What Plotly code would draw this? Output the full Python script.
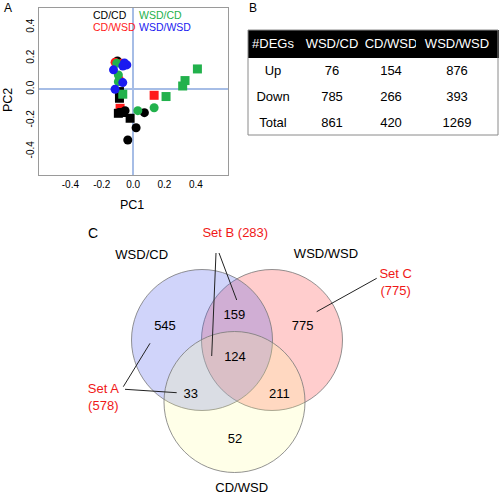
import plotly.graph_objects as go

FONT = "Liberation Sans, Arial, sans-serif"
W, H = 500, 495

# ---------------- Panel A data (PCA) ----------------
groups = ["CD/CD", "CD/WSD", "WSD/CD", "WSD/WSD"]
group_colors = {"CD/CD": "#000000", "CD/WSD": "#FF1A1A", "WSD/CD": "#22B14C", "WSD/WSD": "#1A1AF0"}

cdcd_circle_x = [-0.100, -0.034, 0.019, 0.072, -0.051]
cdcd_circle_y = [0.183, -0.327, -0.248, -0.151, -0.138]
cdcd_square_x = [-0.094, -0.072, -0.019, -0.087, -0.087]
cdcd_square_y = [-0.155, -0.150, -0.187, -0.058, -0.015]

cdwsd_circle_x = [-0.115, -0.072, -0.087]
cdwsd_circle_y = [0.174, 0.168, 0.062]
cdwsd_square_x = [0.134, -0.083]
cdwsd_square_y = [-0.039, -0.123]

wsdcd_circle_x = [0.030, 0.134, -0.104, -0.094, -0.094]
wsdcd_circle_y = [-0.138, -0.119, 0.168, 0.092, 0.049]
wsdcd_square_x = [0.410, 0.331, 0.316, 0.210, -0.066]
wsdcd_square_y = [0.131, 0.056, 0.021, -0.047, -0.032]

wsdwsd_circle_x = [-0.115, -0.066, -0.125, -0.040, -0.055, -0.065]
wsdwsd_circle_y = [0.000, 0.043, 0.125, 0.157, 0.170, 0.150]

pc_ticks = [-0.4, -0.2, 0.0, 0.2, 0.4]
pc_ticklabels = ["-0.4", "-0.2", "0.0", "0.2", "0.4"]

# ---------------- Panel B data (table) ----------------
table_header = ["#DEGs", "WSD/CD", "CD/WSD", "WSD/WSD"]
row_labels = ["Up", "Down", "Total"]
deg_wsdcd = [76, 785, 861]
deg_cdwsd = [154, 266, 420]
deg_wsdwsd = [876, 393, 1269]

# ---------------- Panel C data (Venn) ----------------
venn_sets = ["WSD/CD", "WSD/WSD", "CD/WSD"]
venn_regions = ["WSD/CD only", "WSD/CD & WSD/WSD", "WSD/WSD only", "all three",
                "WSD/CD & CD/WSD", "WSD/WSD & CD/WSD", "CD/WSD only"]
venn_counts = [545, 159, 775, 124, 33, 211, 52]

fig = go.Figure()

# ---------- Panel A ----------
def add_pts(xs, ys, color, symbol, size):
    fig.add_trace(go.Scatter(x=xs, y=ys, mode="markers", xaxis="x", yaxis="y",
                             marker=dict(color=color, symbol=symbol, size=size, line=dict(width=0)),
                             hoverinfo="skip"))

add_pts(cdwsd_square_x, cdwsd_square_y, group_colors["CD/WSD"], "square", 9)
add_pts(cdcd_square_x, cdcd_square_y, group_colors["CD/CD"], "square", 9)
add_pts(cdcd_circle_x, cdcd_circle_y, group_colors["CD/CD"], "circle", 9)
add_pts(cdwsd_circle_x, cdwsd_circle_y, group_colors["CD/WSD"], "circle", 9)
add_pts(wsdcd_circle_x, wsdcd_circle_y, group_colors["WSD/CD"], "circle", 9)
add_pts(wsdcd_square_x, wsdcd_square_y, group_colors["WSD/CD"], "square", 9)
add_pts(wsdwsd_circle_x, wsdwsd_circle_y, group_colors["WSD/WSD"], "circle", 9)

# legend text (colored labels)
leg_x = [-0.267, 0.027, -0.267, 0.027]
leg_y = [0.479, 0.479, 0.404, 0.404]
legend_order = ["CD/CD", "WSD/CD", "CD/WSD", "WSD/WSD"]
for lx, ly, g in zip(leg_x, leg_y, legend_order):
    fig.add_annotation(x=lx, y=ly, xref="x", yref="y", text=g, showarrow=False,
                       xanchor="left", yanchor="middle",
                       font=dict(family=FONT, size=10.5, color=group_colors[g]))

# ---------- Panel B ----------
fig.add_trace(go.Table(
    domain=dict(x=[248 / W, 498 / W], y=[1 - 135 / H, 1 - 30 / H]),
    columnwidth=[50, 68, 50, 82],
    header=dict(values=table_header, fill_color="black", line_color="black",
                font=dict(family=FONT, size=13, color="white"), align="center", height=27),
    cells=dict(values=[row_labels, deg_wsdcd, deg_cdwsd, deg_wsdwsd],
               fill_color="white", line_color="white",
               font=dict(family=FONT, size=13, color="black"), align="center", height=26),
))
fig.add_shape(type="rect", xref="paper", yref="paper",
              x0=248 / W, x1=498 / W, y0=1 - 135 / H, y1=1 - 30 / H,
              line=dict(color="#8a8a8a", width=1), fillcolor="rgba(0,0,0,0)", layer="above")

# ---------- Panel C (Venn) ----------
R = 70.5
circle_centers = {"WSD/WSD": (272, 340), "WSD/CD": (202, 340), "CD/WSD": (234.5, 402)}
circle_fills = {"WSD/WSD": "rgba(255,55,55,0.25)", "WSD/CD": "rgba(67,83,235,0.25)",
                "CD/WSD": "rgba(255,255,150,0.22)"}
for s in ["WSD/WSD", "WSD/CD", "CD/WSD"]:
    cx, cy = circle_centers[s]
    fig.add_shape(type="circle", xref="x3", yref="y3", x0=cx - R, x1=cx + R, y0=cy - R, y1=cy + R,
                  fillcolor=circle_fills[s], line=dict(color="rgba(120,120,120,0.8)", width=1),
                  layer="below")

region_x = [165, 234.3, 302.7, 235, 190.7, 279.3, 235]
region_y = [326.7, 316, 326.7, 357.7, 395, 395, 439.3]
fig.add_trace(go.Scatter(x=region_x, y=region_y, xaxis="x3", yaxis="y3", mode="text",
                         text=[str(c) for c in venn_counts], textposition="middle center",
                         textfont=dict(family=FONT, size=13, color="black"), hoverinfo="skip"))

set_label_x = [141.7, 326, 241.7]
set_label_y = [255.7, 255, 488.3]
fig.add_trace(go.Scatter(x=set_label_x, y=set_label_y, xaxis="x3", yaxis="y3", mode="text",
                         text=venn_sets, textposition="middle center",
                         textfont=dict(family=FONT, size=13, color="black"), hoverinfo="skip"))

set_a = venn_counts[0] + venn_counts[4]
set_b = venn_counts[1] + venn_counts[3]
set_c = venn_counts[2]
sel_text = [f"Set A<br>({set_a})", f"Set B ({set_b})", f"Set C<br>({set_c})"]
sel_x = [103.3, 235.3, 395.7]
sel_y = [398, 233.3, 283]
fig.add_trace(go.Scatter(x=sel_x, y=sel_y, xaxis="x3", yaxis="y3", mode="text",
                         text=sel_text, textposition="middle center",
                         textfont=dict(family=FONT, size=13, color="#F01818"), hoverinfo="skip"))

pointer_lines = [
    ((216, 253), (211.7, 356)),
    ((219, 253), (236.7, 300)),
    ((376.7, 278.3), (316.7, 311.7)),
    ((123.3, 386.7), (150, 343.3)),
    ((125, 389.3), (176.7, 392.7)),
]
for (x0, y0), (x1, y1) in pointer_lines:
    fig.add_shape(type="line", xref="x3", yref="y3", x0=x0, y0=y0, x1=x1, y1=y1,
                  line=dict(color="#222222", width=1), layer="above")

# ---------- panel letters & axis titles ----------
def paper_text(px, py, text, size, angle=0):
    fig.add_annotation(x=px / W, y=1 - py / H, xref="paper", yref="paper", text=text,
                       showarrow=False, xanchor="center", yanchor="middle", textangle=angle,
                       font=dict(family=FONT, size=size, color="black"))

paper_text(8, 8, "A", 12)
paper_text(253, 8, "B", 12)
paper_text(93, 233, "C", 14)
paper_text(132, 205, "PC1", 12.5)
paper_text(8, 100, "PC2", 12.5, angle=-90)

axis_common = dict(showgrid=False, showline=True, mirror=True, linecolor="#9a9a9a", linewidth=1,
                   zeroline=True, zerolinecolor="#A6BDE6", zerolinewidth=1.5,
                   tickvals=pc_ticks, ticktext=pc_ticklabels, ticks="",
                   tickfont=dict(family=FONT, size=10, color="black"), fixedrange=True)

fig.update_layout(
    width=W, height=H, margin=dict(l=0, r=0, t=0, b=0),
    paper_bgcolor="white", plot_bgcolor="rgba(0,0,0,0)", showlegend=False,
    xaxis=dict(domain=[39 / W, 228 / W], range=[-0.6, 0.605], anchor="y", **axis_common),
    yaxis=dict(domain=[1 - 175 / H, 1 - 8 / H], range=[-0.553, 0.524], anchor="x",
               tickangle=-90, **axis_common),
    xaxis3=dict(domain=[0, 1], range=[0, 500], anchor="y3", visible=False, fixedrange=True),
    yaxis3=dict(domain=[0, 297 / H], range=[495, 198], anchor="x3", visible=False, fixedrange=True),
)

fig.write_html("out.html", config={"displayModeBar": False},
               post_script="document.body.style.margin='0';document.body.style.overflow='hidden';")
